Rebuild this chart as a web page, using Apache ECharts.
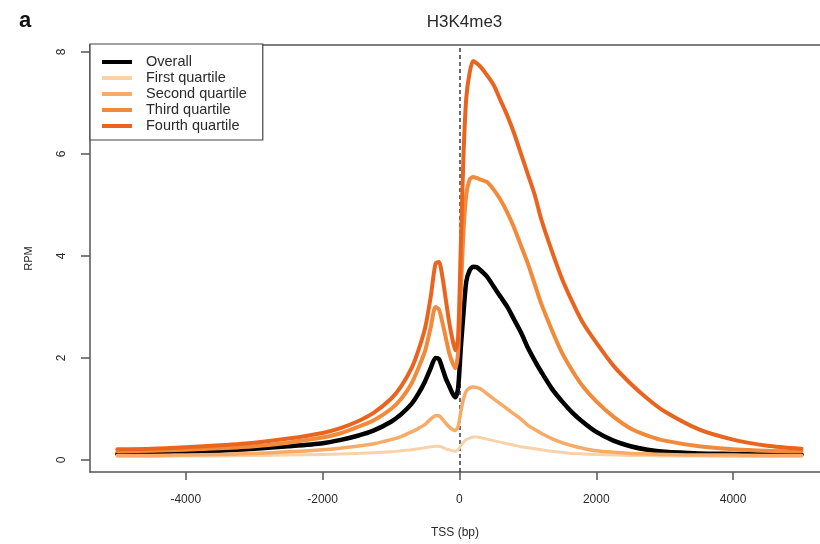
<!DOCTYPE html>
<html>
<head>
<meta charset="utf-8">
<title>H3K4me3</title>
<script src="https://cdn.jsdelivr.net/npm/echarts@6/dist/echarts.min.js"></script>
<style>
  html, body { margin: 0; padding: 0; background: #fff; }
  #chart { width: 820px; height: 544px; }
</style>
</head>
<body>
<div id="chart"></div>
<script>
// Distance from the transcription start site (bp)
const positions = [-5000, -4500, -4000, -3500, -3000, -2500, -2000, -1750, -1500, -1250,
  -1000, -850, -700, -600, -500, -420, -350, -300, -250, -200,
  -150, -100, -60, -20, 20, 60, 100, 150, 200, 250,
  300, 400, 500, 600, 700, 800, 900, 1000, 1100, 1200,
  1350, 1500, 1650, 1800, 2000, 2250, 2500, 2750, 3000, 3500,
  4000, 4500, 5000];

// Mean RPM profiles
const overall = [0.12, 0.13, 0.15, 0.18, 0.22, 0.27, 0.33, 0.39, 0.47, 0.58,
  0.75, 0.9, 1.1, 1.3, 1.55, 1.8, 2.0, 1.98, 1.8, 1.6,
  1.45, 1.3, 1.23, 1.4, 2.2, 2.9, 3.5, 3.72, 3.79, 3.78,
  3.73, 3.6, 3.4, 3.2, 3.0, 2.75, 2.5, 2.2, 1.95, 1.72,
  1.4, 1.15, 0.93, 0.75, 0.55, 0.38, 0.27, 0.2, 0.16, 0.13,
  0.12, 0.11, 0.11];

const firstQuartile = [0.07, 0.07, 0.08, 0.08, 0.09, 0.1, 0.11, 0.12, 0.13, 0.14,
  0.16, 0.18, 0.2, 0.22, 0.24, 0.26, 0.27, 0.27, 0.25, 0.22,
  0.2, 0.18, 0.17, 0.2, 0.28, 0.35, 0.4, 0.43, 0.45, 0.45,
  0.44, 0.41, 0.38, 0.35, 0.32, 0.29, 0.26, 0.24, 0.22, 0.2,
  0.17, 0.15, 0.13, 0.12, 0.11, 0.1, 0.09, 0.09, 0.08, 0.08,
  0.07, 0.07, 0.07];

const secondQuartile = [0.09, 0.09, 0.1, 0.11, 0.13, 0.16, 0.2, 0.23, 0.27, 0.32,
  0.4, 0.46, 0.55, 0.62, 0.7, 0.8, 0.87, 0.87, 0.8, 0.72,
  0.65, 0.6, 0.58, 0.65, 0.95, 1.2, 1.35, 1.41, 1.43, 1.42,
  1.4, 1.3, 1.2, 1.1, 1.0, 0.9, 0.8, 0.68, 0.6, 0.52,
  0.42, 0.34, 0.28, 0.23, 0.18, 0.15, 0.13, 0.12, 0.11, 0.1,
  0.1, 0.09, 0.09];

const thirdQuartile = [0.17, 0.18, 0.2, 0.23, 0.27, 0.34, 0.44, 0.52, 0.64, 0.78,
  1.0, 1.2, 1.5, 1.8, 2.15, 2.6, 3.0, 2.95, 2.7, 2.4,
  2.1, 1.9, 1.8, 2.1, 3.3, 4.5, 5.2, 5.5, 5.55, 5.53,
  5.5, 5.45, 5.3, 5.1, 4.85, 4.55, 4.2, 3.85, 3.45, 3.05,
  2.55, 2.1, 1.75, 1.45, 1.15, 0.85, 0.62, 0.48, 0.38, 0.27,
  0.21, 0.18, 0.17];

const fourthQuartile = [0.21, 0.22, 0.25, 0.29, 0.34, 0.42, 0.53, 0.62, 0.75, 0.93,
  1.2, 1.45, 1.8, 2.15, 2.6, 3.2, 3.85, 3.88, 3.6, 3.15,
  2.7, 2.35, 2.15, 2.4, 4.2, 6.0, 7.1, 7.6, 7.82, 7.78,
  7.72, 7.55, 7.35, 7.05, 6.75, 6.4, 6.0, 5.6, 5.2, 4.7,
  4.1, 3.55, 3.1, 2.7, 2.3, 1.85, 1.5, 1.2, 0.95, 0.6,
  0.4, 0.28, 0.22];

const seriesNames = ['Overall', 'First quartile', 'Second quartile', 'Third quartile', 'Fourth quartile'];
const seriesValues = [overall, firstQuartile, secondQuartile, thirdQuartile, fourthQuartile];
const seriesColors = ['#000000', '#F9D2A8', '#F6AC68', '#F18A3B', '#E9651F'];
const seriesWidths = [4.5, 3, 3.5, 4, 4];

const xTicks = [-4000, -2000, 0, 2000, 4000];
const yTicks = [0, 2, 4, 6, 8];

const FONT = '"Liberation Sans", Arial, Helvetica, sans-serif';
const TEXT = '#2a2a2a';
const FRAME = '#555';

const chart = echarts.init(document.getElementById('chart'), null, { renderer: 'canvas' });

const series = seriesNames.map((name, i) => ({
  name: name,
  type: 'line',
  xAxisIndex: 0,
  data: positions.map((p, k) => [p, seriesValues[i][k]]),
  showSymbol: false,
  symbol: 'none',
  smooth: 0.25,
  lineStyle: { color: seriesColors[i], width: seriesWidths[i], cap: 'round', join: 'round' },
  itemStyle: { color: seriesColors[i] },
  z: 2 + i,
  animation: false
}));

// TSS marker
series[0].markLine = {
  silent: true,
  symbol: 'none',
  label: { show: false },
  lineStyle: { color: '#3a3a44', type: [4, 3], width: 1.5 },
  data: [{ xAxis: 0 }],
  z: 1
};

const plainNumber = v => String(v);

chart.setOption({
  animation: false,
  backgroundColor: '#ffffff',
  textStyle: { fontFamily: FONT },
  title: [{
    text: 'H3K4me3',
    left: 459.5,
    top: 9,
    textAlign: 'center',
    textStyle: { fontFamily: FONT, fontSize: 17, fontWeight: 'normal', color: TEXT }
  }, {
    text: 'a',
    left: 14,
    top: 5,
    textStyle: { fontFamily: FONT, fontSize: 22, fontWeight: 'bold', color: '#111' }
  }],
  legend: {
    orient: 'vertical',
    left: 90,
    top: 44,
    padding: [10, 16, 6, 12],
    itemGap: 0,
    itemWidth: 30,
    itemHeight: 4,
    icon: 'rect',
    backgroundColor: '#fff',
    borderColor: '#444',
    borderWidth: 1.2,
    borderRadius: 0,
    data: seriesNames,
    textStyle: { fontFamily: FONT, fontSize: 14.5, color: TEXT, lineHeight: 16, padding: [0, 0, 0, 9] }
  },
  grid: {
    left: 90,
    top: 45,
    right: 0,
    height: 430,
    show: false,
    containLabel: false
  },
  xAxis: [{
    type: 'value',
    position: 'bottom',
    min: -5400,
    max: 5270,
    name: 'TSS (bp)',
    nameLocation: 'middle',
    nameGap: 55,
    nameTextStyle: { fontFamily: FONT, fontSize: 12, color: TEXT },
    axisLine: { show: true, onZero: false, lineStyle: { color: FRAME, width: 1.5 } },
    axisTick: { show: true, length: 8, customValues: xTicks, lineStyle: { color: FRAME, width: 1.5 } },
    axisLabel: { customValues: xTicks, formatter: plainNumber, margin: 22, fontFamily: FONT, fontSize: 12, color: TEXT },
    splitLine: { show: false }
  }, {
    // top edge of the plot frame
    type: 'value',
    position: 'top',
    min: -5400,
    max: 5270,
    axisLine: { show: true, onZero: false, lineStyle: { color: FRAME, width: 1.5 } },
    axisTick: { show: false },
    axisLabel: { show: false },
    splitLine: { show: false }
  }],
  yAxis: {
    type: 'value',
    min: -0.235,
    max: 8.135,
    name: 'RPM',
    nameLocation: 'middle',
    nameGap: 56,
    nameRotate: 90,
    nameTextStyle: { fontFamily: FONT, fontSize: 11, color: TEXT },
    axisLine: { show: true, onZero: false, lineStyle: { color: FRAME, width: 1.5 } },
    axisTick: { show: true, length: 9, customValues: yTicks, lineStyle: { color: FRAME, width: 1.5 } },
    axisLabel: { customValues: yTicks, formatter: plainNumber, rotate: 90, margin: 22, fontFamily: FONT, fontSize: 12, color: TEXT },
    splitLine: { show: false }
  },
  series: series
});
</script>
</body>
</html>
